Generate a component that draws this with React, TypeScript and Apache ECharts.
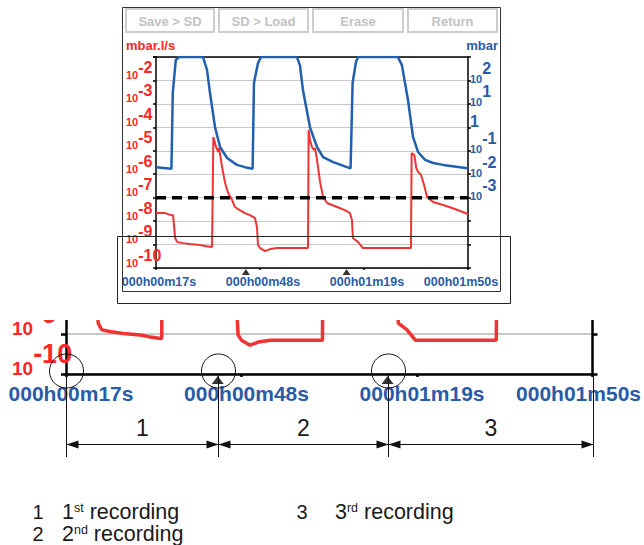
import React, { useEffect, useRef } from 'react';
import * as echarts from 'echarts';

// ---------- data ----------
const startSecond = 17; // label of the left end of the time axis
const spanSeconds = 93; // 000h00m17s .. 000h01m50s
const tickSeconds = 31;

// leak rate (mbar.l/s), left axis
const redTimes = [0, 2.7, 4.5, 5.1, 5.7, 6.3, 8.0, 10.1, 13.1, 14.6, 16.7, 16.9, 17.1, 17.9, 18.5, 18.8, 19.7, 20.6, 21.5, 22.7, 23.5, 25.0, 26.5, 28.0, 29.5, 30.1, 30.4, 31.0, 32.5, 33.4, 34.0, 36.1, 45.0, 45.3, 45.5, 45.9, 46.5, 47.1, 47.4, 48.0, 48.9, 49.8, 51.0, 54.0, 56.3, 57.8, 58.4, 58.7, 60.2, 61.7, 75.7, 76.0, 76.2, 77.0, 77.6, 78.2, 79.0, 79.9, 80.8, 82.6, 85.6, 89.1, 93];
const redValues = [2.2e-8, 2.2e-8, 1.8e-8, 1.8e-8, 1.9e-9, 1.3e-9, 1.15e-9, 1.05e-9, 9.6e-10, 8.7e-10, 7.8e-10, 7.8e-10, 3.9e-5, 1.45e-5, 9e-6, 1.3e-5, 2.0e-6, 4.2e-7, 1.58e-7, 7.9e-8, 4.0e-8, 2.95e-8, 2.2e-8, 1.8e-8, 1.35e-8, 5.6e-9, 9.6e-10, 7.1e-10, 5.3e-10, 5.9e-10, 6.4e-10, 7.1e-10, 7.1e-10, 7.1e-10, 7.7e-5, 2.9e-5, 1.45e-5, 1.07e-5, 1.3e-5, 4.1e-6, 4.7e-7, 1.07e-7, 5.9e-8, 4.0e-8, 2.95e-8, 2.2e-8, 1.12e-8, 1.9e-9, 1.3e-9, 7.1e-10, 7.1e-10, 7.1e-10, 7.9e-6, 6.6e-6, 1.8e-6, 1.2e-6, 9.5e-7, 3.5e-7, 1.07e-7, 6.5e-8, 4.9e-8, 3.3e-8, 2.0e-8];

// pressure (mbar), right axis
const blueTimes = [0, 3.0, 4.6, 5.0, 5.9, 6.9, 14.0, 15.2, 16.1, 17.6, 19.1, 21.2, 24.1, 26.5, 28.8, 29.2, 30.4, 31.3, 42.0, 42.9, 43.8, 45.9, 48.0, 49.8, 52.8, 56.9, 58.0, 58.6, 59.6, 60.2, 72.1, 73.3, 75.1, 76.6, 78.1, 80.2, 82.6, 85.6, 90.6, 93];
const blueValues = [0.020, 0.018, 0.017, 29, 750, 1000, 1000, 280, 29, 1.0, 0.145, 0.049, 0.025, 0.020, 0.017, 78, 550, 1000, 1000, 450, 39, 1.0, 0.145, 0.054, 0.033, 0.020, 0.018, 78, 610, 1000, 1000, 450, 15, 0.39, 0.089, 0.041, 0.030, 0.025, 0.020, 0.018];

const thresholdValue = 1e-7;
const recordingMarkers = [26.8, 56.8];
const recordingNumbers = ['1', '2', '3'];
const legendEntries = [
  { num: '1', sup: 'st' },
  { num: '2', sup: 'nd' },
  { num: '3', sup: 'rd' },
];
const buttonLabels = ['Save > SD', 'SD > Load', 'Erase', 'Return'];
const leftUnit = 'mbar.l/s';
const rightUnit = 'mbar';

const leftRange = [1e-10, 1e-1];
const rightRange = [1e-6, 1e3];
const magLeftRange = [1e-10, 1e-8];
const magRightRange = [1e-6, 1e-4];

// ---------- style ----------
const FONT = '"Liberation Sans", Arial, Helvetica, sans-serif';
const RED = '#f03434';
const RED_TEXT = '#ff2626';
const BLUE = '#2160b0';
const BLUE_TEXT = '#2a5ba8';
const GRID_GRAY = '#c8c8c8';

const MAIN = { left: 156, top: 57, width: 312, height: 211 };
const magRatio = 529 / MAIN.width;
const decadePx = MAIN.height / 9;
const magDecadePx = decadePx * magRatio;
const MAG_BOTTOM = 374;
const MAG = { left: 66, top: MAG_BOTTOM - 2 * magDecadePx, width: 529, height: 2 * magDecadePx };
const MAG_VISIBLE_TOP = 320; // the enlarged strip is cut here

const pad = (n: number, w: number) => String(n).padStart(w, '0');
const fmtTime = (v: number) => {
  const s = startSecond + Math.round(v);
  return `${pad(Math.floor(s / 3600), 3)}h${pad(Math.floor((s % 3600) / 60), 2)}m${pad(s % 60, 2)}s`;
};
const expOf = (v: number) => {
  const l = Math.log10(v);
  const r = Math.round(l);
  return Math.abs(l - r) < 1e-6 ? r : null;
};

const redData = redTimes.map((t, i) => [t, redValues[i]]);
const blueData = blueTimes.map((t, i) => [t, blueValues[i]]);

function xLabelRich(size: number, padL: number, padR: number) {
  const base = { fontSize: size, fontWeight: 'bold', fontFamily: FONT, color: BLUE_TEXT };
  return {
    n: { ...base, padding: [0, 0, 0, padL] },
    l: { ...base, padding: [0, padR, 0, 0] },
  };
}
const xFmt = (v: number) => (Math.abs(v - spanSeconds) < 1e-6 ? `{l|${fmtTime(v)}}` : `{n|${fmtTime(v)}}`);

function buildOption(): any {
  const axisLineMain = { show: true, onZero: false, lineStyle: { color: '#000', width: 1.5 } };
  const axisLineMag = { show: true, onZero: false, lineStyle: { color: '#000', width: 2.5 } };
  const staticGraphic: any[] = [];

  // device frame
  staticGraphic.push({
    type: 'rect', z: 45, shape: { x: 122.5, y: 7.5, width: 378, height: 284 },
    style: { fill: 'none', stroke: '#333', lineWidth: 1 }, silent: true,
  });
  // buttons
  const btnX = [126, 219, 313, 408];
  const btnW = [88, 89, 90, 89];
  buttonLabels.forEach((label, i) => {
    staticGraphic.push({
      type: 'rect', z: 1, shape: { x: btnX[i], y: 9, width: btnW[i], height: 23 },
      style: { fill: '#fff', stroke: '#cdcdcd', lineWidth: 2 }, silent: true,
    });
    staticGraphic.push({
      type: 'text', z: 2, x: btnX[i] + btnW[i] / 2, y: 21,
      style: {
        text: label, fill: '#c2c2c2', font: `bold 13px ${FONT}`,
        align: 'center', verticalAlign: 'middle', textAlign: 'center', textVerticalAlign: 'middle',
      }, silent: true,
    });
  });
  // units
  staticGraphic.push({
    type: 'text', z: 2, x: 126, y: 45,
    style: { text: leftUnit, fill: RED_TEXT, font: `bold 13px ${FONT}`, align: 'left', verticalAlign: 'middle', textAlign: 'left', textVerticalAlign: 'middle' },
    silent: true,
  });
  staticGraphic.push({
    type: 'text', z: 2, x: 498, y: 45,
    style: { text: rightUnit, fill: BLUE_TEXT, font: `bold 13px ${FONT}`, align: 'right', verticalAlign: 'middle', textAlign: 'right', textVerticalAlign: 'middle' },
    silent: true,
  });
  // white band: the enlarged strip is cut at its top edge
  staticGraphic.push({
    type: 'rect', z: 40, shape: { x: 0, y: 292, width: 644, height: MAG_VISIBLE_TOP - 292 },
    style: { fill: '#fff' }, silent: true,
  });
  // zoom frame
  staticGraphic.push({
    type: 'rect', z: 50, shape: { x: 117.5, y: 236.5, width: 393, height: 67 },
    style: { fill: 'none', stroke: '#222', lineWidth: 1 }, silent: true,
  });
  // legend
  const legPos = [
    { xn: 38, xt: 62, y: 512 },
    { xn: 38, xt: 62, y: 534 },
    { xn: 302, xt: 335, y: 512 },
  ];
  legendEntries.forEach((e, i) => {
    const p = legPos[i];
    staticGraphic.push({
      type: 'text', z: 2, x: p.xn, y: p.y,
      style: { text: e.num, fill: '#1a1a1a', font: `20px ${FONT}`, align: 'center', verticalAlign: 'middle', textAlign: 'center', textVerticalAlign: 'middle' },
      silent: true,
    });
    staticGraphic.push({
      type: 'text', z: 2, x: p.xt, y: p.y,
      style: {
        text: `{a|${e.num}}{s|${e.sup}}{a| recording}`,
        align: 'left', verticalAlign: 'middle', textAlign: 'left', textVerticalAlign: 'middle',
        rich: {
          a: { fontSize: 21.5, fontFamily: FONT, fill: '#1a1a1a', color: '#1a1a1a', lineHeight: 22 },
          s: { fontSize: 12.5, fontFamily: FONT, fill: '#1a1a1a', color: '#1a1a1a', lineHeight: 12, verticalAlign: 'top' },
        },
      },
      silent: true,
    });
  });

  const leftRich = {
    b: { fontSize: 11, fontWeight: 'bold', fontFamily: FONT, color: RED_TEXT, lineHeight: 11, verticalAlign: 'bottom' },
    e: { fontSize: 16, fontWeight: 'bold', fontFamily: FONT, color: RED_TEXT, lineHeight: 21, verticalAlign: 'top' },
  };
  const rightRich = {
    b: { fontSize: 11, fontWeight: 'bold', fontFamily: FONT, color: BLUE_TEXT, lineHeight: 11, verticalAlign: 'bottom' },
    e: { fontSize: 16, fontWeight: 'bold', fontFamily: FONT, color: BLUE_TEXT, lineHeight: 24, verticalAlign: 'top' },
    one: { fontSize: 16, fontWeight: 'bold', fontFamily: FONT, color: BLUE_TEXT, lineHeight: 20, verticalAlign: 'bottom' },
  };
  const magRich = {
    b: { fontSize: 19, fontWeight: 'bold', fontFamily: FONT, color: RED_TEXT, lineHeight: 19, verticalAlign: 'bottom' },
    e: { fontSize: 27, fontWeight: 'bold', fontFamily: FONT, color: RED_TEXT, lineHeight: 38, verticalAlign: 'top' },
  };

  return {
    animation: false,
    backgroundColor: '#fff',
    textStyle: { fontFamily: FONT },
    grid: [
      { left: MAIN.left, top: MAIN.top, width: MAIN.width, height: MAIN.height },
      { left: MAG.left, top: MAG.top, width: MAG.width, height: MAG.height },
    ],
    xAxis: [
      {
        gridIndex: 0, type: 'value', min: 0, max: spanSeconds, interval: tickSeconds,
        axisLine: axisLineMain,
        axisTick: { show: true, length: 2, lineStyle: { color: '#000', width: 1.5 } },
        splitLine: { show: false },
        axisLabel: { margin: 7, showMinLabel: true, showMaxLabel: true, formatter: xFmt, rich: xLabelRich(12.5, 6, 14) },
      },
      {
        gridIndex: 1, type: 'value', min: 0, max: spanSeconds, interval: tickSeconds,
        axisLine: axisLineMag,
        axisTick: { show: true, length: 3, lineStyle: { color: '#000', width: 2.5 } },
        splitLine: { show: false },
        axisLabel: { margin: 9, showMinLabel: true, showMaxLabel: true, formatter: xFmt, rich: xLabelRich(21, 10, 28) },
      },
      {
        gridIndex: 0, type: 'value', position: 'top', min: 0, max: spanSeconds, interval: tickSeconds,
        axisLine: axisLineMain, axisTick: { show: false }, axisLabel: { show: false }, splitLine: { show: false },
      },
    ],
    yAxis: [
      {
        gridIndex: 0, type: 'log', logBase: 10, min: leftRange[0], max: leftRange[1], interval: 1, position: 'left',
        axisLine: axisLineMain,
        axisTick: { show: true, length: 3, lineStyle: { color: '#000', width: 1.5 } },
        splitLine: { show: true, lineStyle: { color: GRID_GRAY, width: 1.2 } },
        axisLabel: {
          margin: 30, align: 'left', verticalAlign: 'bottom', showMinLabel: true,
          formatter: (v: number) => { const e = expOf(v); return e === null || e === -1 ? '' : `{b|10}{e|${e}}`; },
          rich: leftRich,
        },
      },
      {
        gridIndex: 0, type: 'log', logBase: 10, min: rightRange[0], max: rightRange[1], interval: 1, position: 'right',
        axisLine: axisLineMain,
        axisTick: { show: true, length: 3, lineStyle: { color: '#000', width: 1.5 } },
        splitLine: { show: false },
        axisLabel: {
          margin: 2, align: 'left', verticalAlign: 'middle', padding: [0, 0, 16, 0],
          formatter: (v: number) => {
            const e = expOf(v);
            if (e === null || e > 2 || e < -3) return '';
            if (e === 0) return '{one|1}';
            return `{b|10}{e|${e}}`;
          },
          rich: rightRich,
        },
      },
      {
        gridIndex: 1, type: 'log', logBase: 10, min: magLeftRange[0], max: magLeftRange[1], interval: 1, position: 'left',
        axisLine: axisLineMag,
        axisTick: { show: true, length: 5, lineStyle: { color: '#000', width: 2.5 } },
        splitLine: { show: true, lineStyle: { color: GRID_GRAY, width: 2 } },
        axisLabel: {
          margin: 54, align: 'left', verticalAlign: 'middle', padding: [0, 0, 30, 0],
          showMinLabel: true, showMaxLabel: true, hideOverlap: false,
          formatter: (v: number) => {
            const e = expOf(v);
            return e === -10 || e === -9 ? `{b|10}{e|${e}}` : '';
          },
          rich: magRich,
        },
      },
      {
        gridIndex: 1, type: 'log', logBase: 10, min: magRightRange[0], max: magRightRange[1], interval: 1, position: 'right',
        axisLine: axisLineMag,
        axisTick: { show: true, length: 5, lineStyle: { color: '#000', width: 2.5 } },
        splitLine: { show: false },
        axisLabel: { show: false },
      },
    ],
    series: [
      {
        name: 'pressure', type: 'line', xAxisIndex: 0, yAxisIndex: 1, data: blueData,
        showSymbol: false, symbol: 'none', z: 3, silent: true,
        lineStyle: { color: BLUE, width: 2.5 },
      },
      {
        name: 'leak rate', type: 'line', xAxisIndex: 0, yAxisIndex: 0, data: redData,
        showSymbol: false, symbol: 'none', z: 4, silent: true,
        lineStyle: { color: RED, width: 2 },
      },
      {
        name: 'threshold', type: 'line', xAxisIndex: 0, yAxisIndex: 0,
        data: [[0, thresholdValue], [spanSeconds, thresholdValue]],
        showSymbol: false, symbol: 'none', z: 5, silent: true,
        lineStyle: { color: '#000', width: 3.5, type: [10, 6] },
      },
      {
        name: 'markers', type: 'scatter', xAxisIndex: 0, yAxisIndex: 0, clip: false,
        data: recordingMarkers.map((t) => [t, leftRange[0]]),
        symbol: 'triangle', symbolSize: [8, 6], symbolOffset: [0, 4], z: 6, silent: true,
        itemStyle: { color: '#000' },
      },
      {
        name: 'leak rate zoom', type: 'line', xAxisIndex: 1, yAxisIndex: 2, data: redData,
        showSymbol: false, symbol: 'none', z: 4, silent: true,
        lineStyle: { color: RED, width: 3.5 },
      },
      {
        name: 'markers zoom', type: 'scatter', xAxisIndex: 1, yAxisIndex: 2, clip: false,
        data: recordingMarkers.map((t) => [t, magLeftRange[0]]),
        symbol: 'triangle', symbolSize: [12, 8], symbolOffset: [0, 6], z: 6, silent: true,
        itemStyle: { color: '#000' },
      },
    ],
    graphic: staticGraphic,
  };
}

export default function App() {
  const ref = useRef<HTMLDivElement>(null);
  useEffect(() => {
    if (!ref.current) return;
    const chart = echarts.init(ref.current, undefined, { renderer: 'svg' });
    const option = buildOption();
    chart.setOption(option);

    // annotation for the recordings, positioned from the zoomed axis
    const bounds = [0, ...recordingMarkers, spanSeconds];
    const xs = bounds.map((t) => Math.round(chart.convertToPixel({ xAxisIndex: 1 } as any, t) as number) + 0.5);
    const axisY = chart.convertToPixel({ yAxisIndex: 2 } as any, magLeftRange[0]) as number;
    const arrowY = 444.5;
    const lineEnd = 457;
    const ann: any[] = [];
    xs.forEach((x) => {
      ann.push({ type: 'line', z: 60, silent: true, shape: { x1: x, y1: axisY, x2: x, y2: lineEnd }, style: { stroke: '#111', lineWidth: 1 } });
    });
    xs.slice(0, 3).forEach((x) => {
      ann.push({ type: 'circle', z: 60, silent: true, shape: { cx: x, cy: axisY - 3, r: 17 }, style: { fill: 'none', stroke: '#111', lineWidth: 1 } });
    });
    for (let i = 0; i < xs.length - 1; i++) {
      const a = xs[i];
      const b = xs[i + 1];
      ann.push({ type: 'line', z: 60, silent: true, shape: { x1: a, y1: arrowY, x2: b, y2: arrowY }, style: { stroke: '#111', lineWidth: 1 } });
      ann.push({ type: 'polygon', z: 61, silent: true, shape: { points: [[a, arrowY], [a + 12, arrowY - 4], [a + 12, arrowY + 4]] }, style: { fill: '#111' } });
      ann.push({ type: 'polygon', z: 61, silent: true, shape: { points: [[b, arrowY], [b - 12, arrowY - 4], [b - 12, arrowY + 4]] }, style: { fill: '#111' } });
      ann.push({
        type: 'text', z: 61, silent: true, x: (a + b) / 2, y: 428,
        style: { text: recordingNumbers[i], fill: '#1a1a1a', font: `23px ${FONT}`, align: 'center', verticalAlign: 'middle', textAlign: 'center', textVerticalAlign: 'middle' },
      });
    }
    chart.setOption({ graphic: [...option.graphic, ...ann] });

    return () => chart.dispose();
  }, []);
  return (
    <div
      ref={ref}
      style={{ position: 'fixed', left: 0, top: 0, width: 644, height: 545, background: '#fff' }}
    />
  );
}
